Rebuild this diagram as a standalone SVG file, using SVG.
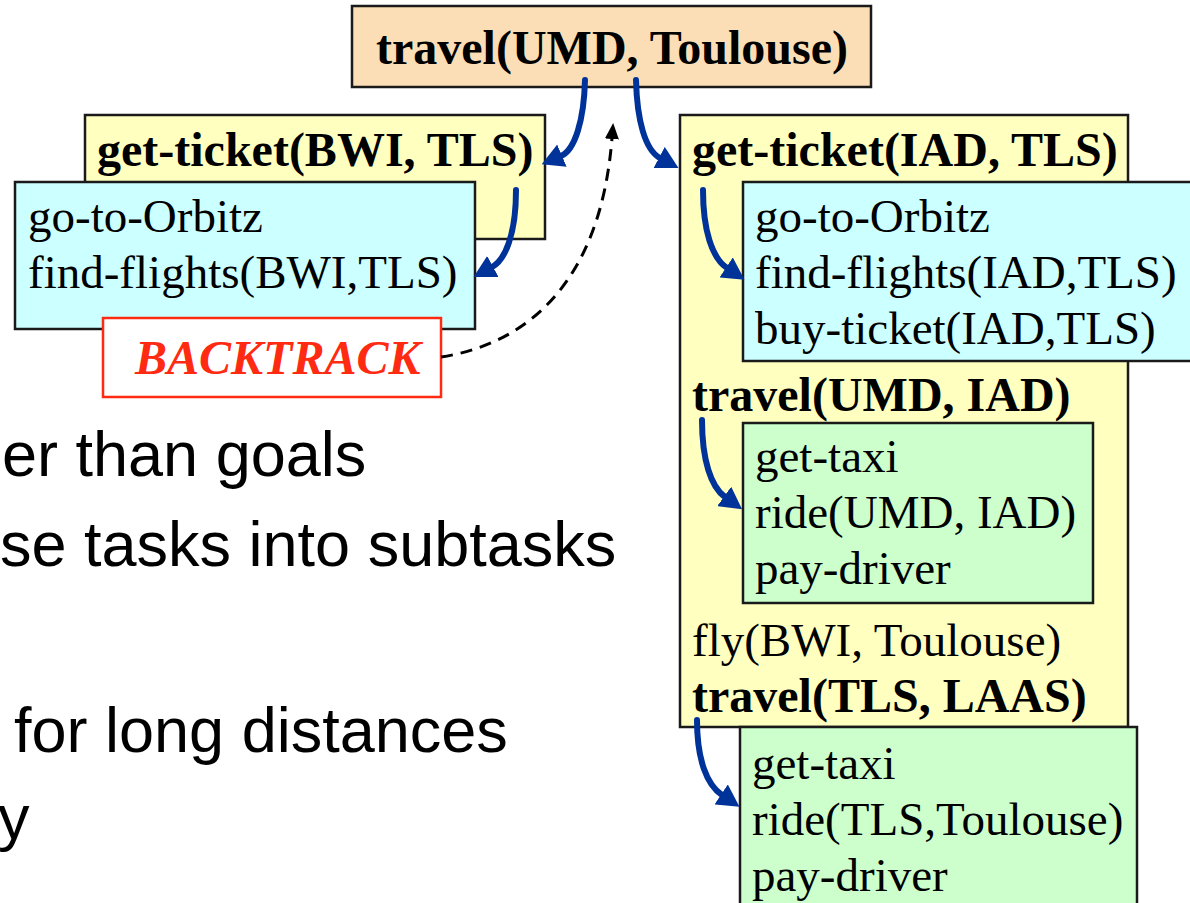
<svg xmlns="http://www.w3.org/2000/svg" width="1190" height="903" viewBox="0 0 1190 903">
  <style>
    .box { stroke: #1a1a1a; stroke-width: 2.5; }
    .peach { fill: #FBDEB5; }
    .yellow { fill: #FFFFC0; }
    .cyan { fill: #CCFFFF; }
    .green { fill: #CCFFCC; }
    .serif { font-family: "Liberation Serif", "Times New Roman", serif; font-size: 47px; fill: #000; }
    .bold { font-weight: bold; font-size: 48px; }
    .sans { font-family: "Liberation Sans", Arial, sans-serif; font-size: 63px; fill: #000; }
    .flow { fill: none; stroke: #003399; stroke-width: 6; stroke-linecap: round; }
    .back { fill: none; stroke: #000; stroke-width: 3; stroke-dasharray: 12 8; }
  </style>
  <defs>
    <marker id="blueHead" markerUnits="userSpaceOnUse" viewBox="0 0 22 24" refX="1" refY="12" markerWidth="22" markerHeight="24" orient="auto">
      <path d="M0,0 L22,12 L0,24 z" fill="#003399"/>
    </marker>
    <marker id="blackHead" markerUnits="userSpaceOnUse" viewBox="0 0 16 14" refX="1" refY="7" markerWidth="16" markerHeight="14" orient="auto">
      <path d="M0,0 L16,7 L0,14 z" fill="#000"/>
    </marker>
  </defs>

  <!-- background -->
  <rect x="0" y="0" width="1190" height="903" fill="#ffffff"/>

  <!-- body text -->
  <g id="body-text" class="sans">
    <text x="2" y="476">er than goals</text>
    <text x="0" y="566">se tasks into subtasks</text>
    <text x="14" y="752">for long distances</text>
    <text x="-2" y="839">y</text>
  </g>

  <!-- root task -->
  <g id="root">
    <rect class="box peach" x="352" y="6" width="519" height="81"/>
    <text class="serif bold" x="612" y="64" text-anchor="middle">travel(UMD, Toulouse)</text>
  </g>

  <!-- failed branch -->
  <g id="ticket-bwi">
    <rect class="box yellow" x="85" y="115" width="460" height="124"/>
    <text class="serif bold" x="97" y="166">get-ticket(BWI, TLS)</text>
  </g>
  <g id="orbitz-bwi">
    <rect class="box cyan" x="15" y="182" width="460" height="147"/>
    <text class="serif" x="28" y="232">go-to-Orbitz</text>
    <text class="serif" x="28" y="288">find-flights(BWI,TLS)</text>
  </g>
  <g id="backtrack">
    <rect x="103" y="318" width="338" height="79" fill="#ffffff" stroke="#FF2A12" stroke-width="2.5"/>
    <text class="serif bold" x="135" y="374" font-style="italic" style="fill:#FF2A12">BACKTRACK</text>
  </g>

  <!-- successful branch -->
  <g id="ticket-iad">
    <rect class="box yellow" x="680" y="115" width="448" height="612"/>
    <text class="serif bold" x="692" y="166">get-ticket(IAD, TLS)</text>
    <text class="serif bold" x="692" y="411">travel(UMD, IAD)</text>
    <text class="serif" x="692" y="656">fly(BWI, Toulouse)</text>
    <text class="serif bold" x="692" y="712">travel(TLS, LAAS)</text>
  </g>
  <g id="orbitz-iad">
    <rect class="box cyan" x="743" y="182" width="460" height="179"/>
    <text class="serif" x="755" y="232">go-to-Orbitz</text>
    <text class="serif" x="755" y="288">find-flights(IAD,TLS)</text>
    <text class="serif" x="755" y="344">buy-ticket(IAD,TLS)</text>
  </g>
  <g id="taxi-umd-iad">
    <rect class="box green" x="743" y="423" width="350" height="180"/>
    <text class="serif" x="755" y="472">get-taxi</text>
    <text class="serif" x="755" y="528">ride(UMD, IAD)</text>
    <text class="serif" x="755" y="584">pay-driver</text>
  </g>
  <g id="taxi-tls-laas">
    <rect class="box green" x="740" y="727" width="397" height="190"/>
    <text class="serif" x="752" y="779">get-taxi</text>
    <text class="serif" x="752" y="835">ride(TLS,Toulouse)</text>
    <text class="serif" x="752" y="891">pay-driver</text>
  </g>

  <!-- decomposition and backtracking connectors -->
  <g id="connectors">
    <path class="flow" d="M585,80 C584,120 575,150 561,156" marker-end="url(#blueHead)"/>
    <path class="flow" d="M636,80 C637,120 645,150 660,158" marker-end="url(#blueHead)"/>
    <path class="flow" d="M516,190 C516,235 505,260 492,267" marker-end="url(#blueHead)"/>
    <path class="flow" d="M703,190 C703,230 712,258 727,268" marker-end="url(#blueHead)"/>
    <path class="flow" d="M702,420 C702,460 711,487 725,497" marker-end="url(#blueHead)"/>
    <path class="flow" d="M697,720 C697,760 707,785 722,795" marker-end="url(#blueHead)"/>
    <path class="back" d="M441,357 C520,345 600,290 612,138" marker-end="url(#blackHead)"/>
  </g>
</svg>
